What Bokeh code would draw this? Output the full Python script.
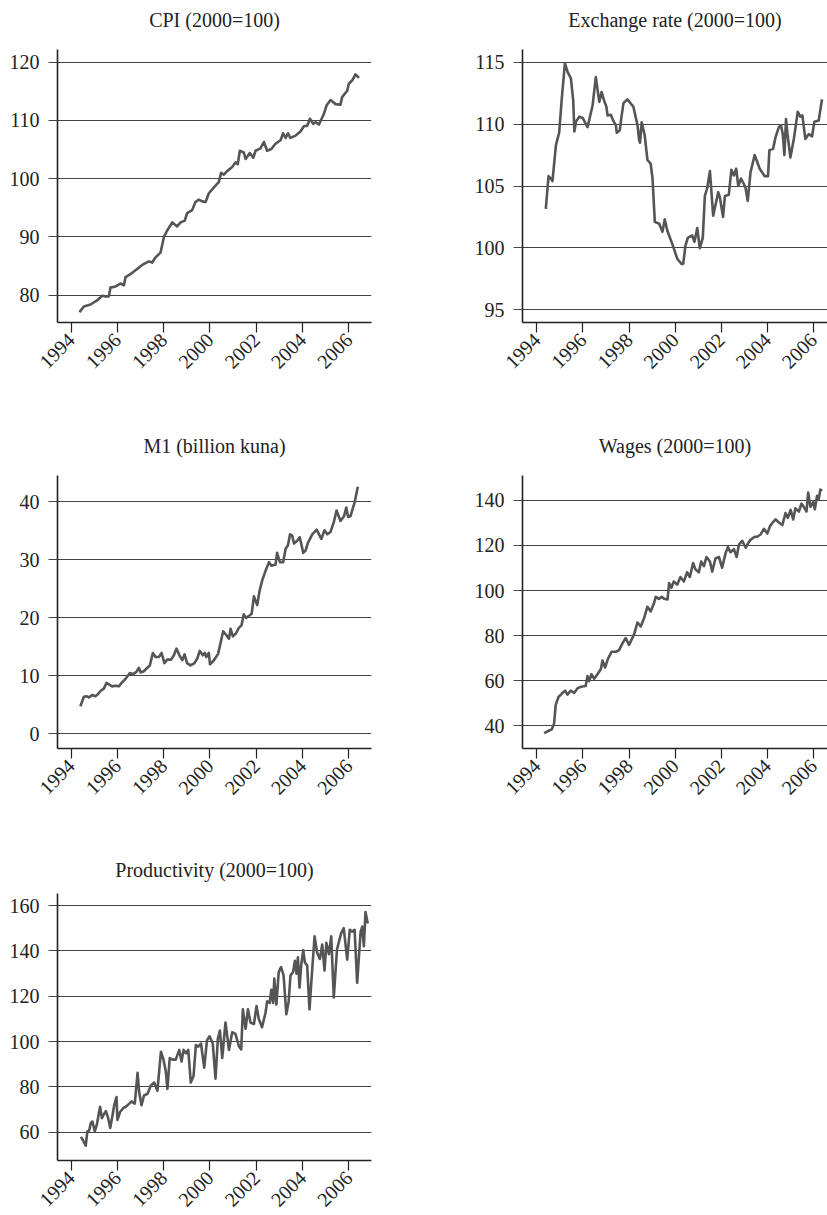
import math
from bokeh.plotting import figure
from bokeh.layouts import column, row
from bokeh.models import Range1d, LinearAxis, FixedTicker
from bokeh.embed import file_html
from bokeh.resources import INLINE

FONT = "Liberation Serif"
GRID = "#444444"
TEXT = "#222222"
LINE = "#555555"

YEAR_TICKS = [1994, 1996, 1998, 2000, 2002, 2004, 2006]

# ---------------- data ----------------
cpi_t = [1994.36, 1994.55, 1994.84, 1995.12, 1995.34, 1995.48, 1995.63, 1995.70, 1995.92, 1996.13,
         1996.28, 1996.35, 1996.56, 1996.85, 1997.07, 1997.36, 1997.50, 1997.65, 1997.86, 1998.01,
         1998.15, 1998.37, 1998.58, 1998.73, 1998.91, 1999.01, 1999.23, 1999.37, 1999.52, 1999.66,
         1999.81, 1999.95, 2000.17, 2000.38, 2000.48, 2000.60, 2000.74, 2000.96, 2001.10, 2001.20,
         2001.29, 2001.46, 2001.54, 2001.72, 2001.87, 2001.97, 2002.18, 2002.33, 2002.47, 2002.65,
         2002.83, 2003.05, 2003.16, 2003.27, 2003.37, 2003.48, 2003.70, 2003.91, 2004.06, 2004.20,
         2004.32, 2004.46, 2004.56, 2004.71, 2004.92, 2005.04, 2005.21, 2005.43, 2005.64, 2005.71,
         2005.93, 2006.00, 2006.15, 2006.29, 2006.44]
cpi_v = [77.1, 78.05, 78.4, 79.1, 79.9, 79.8, 79.8, 81.3, 81.5, 82.0,
         81.7, 83.1, 83.6, 84.5, 85.2, 85.8, 85.6, 86.5, 87.3, 90.0,
         91.1, 92.5, 91.8, 92.5, 92.8, 94.1, 94.6, 96.0, 96.4, 96.1,
         96.0, 97.5, 98.5, 99.4, 101.0, 100.7, 101.3, 102.0, 102.8, 102.5,
         104.8, 104.5, 103.4, 104.4, 103.6, 104.8, 105.2, 106.3, 104.8, 105.1,
         106.0, 106.6, 107.8, 107.0, 107.8, 107.0, 107.4, 108.1, 109.0, 109.1,
         110.3, 109.4, 109.7, 109.3, 111.1, 112.6, 113.5, 112.8, 112.7, 114.0,
         115.1, 116.3, 116.9, 117.9, 117.3]

ex_t = [1994.39, 1994.51, 1994.61, 1994.68, 1994.83, 1994.97, 1995.09, 1995.22, 1995.34, 1995.48,
        1995.58, 1995.63, 1995.70, 1995.84, 1995.99, 1996.20, 1996.42, 1996.56, 1996.71, 1996.81,
        1996.92, 1997.02, 1997.07, 1997.21, 1997.31, 1997.43, 1997.47, 1997.60, 1997.67, 1997.76,
        1997.93, 1998.19, 1998.37, 1998.44, 1998.48, 1998.55, 1998.68, 1998.80, 1998.94, 1999.02,
        1999.12, 1999.31, 1999.45, 1999.55, 1999.66, 1999.88, 2000.10, 2000.28, 2000.35, 2000.45,
        2000.55, 2000.74, 2000.84, 2000.96, 2001.07, 2001.20, 2001.29, 2001.39, 2001.51, 2001.65,
        2001.87, 2001.94, 2002.08, 2002.16, 2002.33, 2002.44, 2002.55, 2002.65, 2002.74, 2002.86,
        2003.05, 2003.15, 2003.27, 2003.45, 2003.67, 2003.88, 2004.03, 2004.09, 2004.25, 2004.35,
        2004.50, 2004.59, 2004.67, 2004.74, 2004.81, 2004.88, 2005.00, 2005.15, 2005.32, 2005.43,
        2005.52, 2005.65, 2005.80, 2005.94, 2006.04, 2006.23, 2006.37]
ex_v = [103.15, 105.8, 105.6, 105.4, 108.3, 109.3, 112.2, 114.9, 114.2, 113.7,
        111.9, 109.4, 110.2, 110.6, 110.5, 109.75, 111.5, 113.8, 111.8, 112.6,
        111.9, 111.4, 110.7, 110.75, 110.3, 109.9, 109.3, 109.5, 110.55, 111.7,
        112.0, 111.4, 109.9, 108.7, 108.5, 110.15, 109.1, 107.1, 106.8, 105.6,
        102.1, 101.95, 101.3, 102.3, 101.4, 100.3, 99.1, 98.7, 98.7, 100.2,
        100.8, 101.0, 100.5, 101.6, 99.98, 100.8, 104.2, 104.8, 106.2, 102.6,
        104.5, 104.1, 102.5, 104.2, 104.3, 106.3, 105.85, 106.4, 105.0, 105.6,
        104.9, 103.8, 106.1, 107.5, 106.4, 105.8, 105.8, 107.9, 108.0, 108.9,
        109.75, 109.9, 109.2, 107.5, 110.4, 109.1, 107.3, 108.8, 111.0, 110.6,
        110.7, 108.8, 109.2, 109.0, 110.2, 110.3, 112.0]

m1_t = [1994.40, 1994.55, 1994.66, 1994.76, 1994.91, 1995.05, 1995.12, 1995.27, 1995.41, 1995.53,
        1995.63, 1995.77, 1995.92, 1996.06, 1996.16, 1996.35, 1996.54, 1996.68, 1996.82, 1996.93,
        1997.00, 1997.14, 1997.29, 1997.40, 1997.53, 1997.65, 1997.79, 1997.91, 1998.03, 1998.15,
        1998.32, 1998.44, 1998.55, 1998.68, 1998.80, 1998.90, 1999.01, 1999.16, 1999.33, 1999.45,
        1999.56, 1999.69, 1999.78, 1999.84, 1999.95, 2000.00, 2000.17, 2000.35, 2000.57, 2000.71,
        2000.82, 2000.89, 2000.99, 2001.12, 2001.25, 2001.36, 2001.46, 2001.56, 2001.71, 2001.80,
        2001.90, 2002.04, 2002.14, 2002.26, 2002.40, 2002.55, 2002.65, 2002.83, 2002.90, 2003.02,
        2003.16, 2003.27, 2003.37, 2003.46, 2003.55, 2003.63, 2003.77, 2003.88, 2004.03, 2004.13,
        2004.23, 2004.42, 2004.61, 2004.81, 2004.95, 2005.07, 2005.21, 2005.35, 2005.47, 2005.64,
        2005.79, 2005.89, 2005.97, 2006.07, 2006.25, 2006.39]
m1_v = [4.76, 6.4, 6.5, 6.3, 6.7, 6.5, 6.7, 7.4, 7.8, 8.8,
        8.55, 8.2, 8.3, 8.2, 8.7, 9.5, 10.5, 10.3, 10.7, 11.4,
        10.6, 10.8, 11.4, 11.8, 13.95, 13.25, 13.25, 13.95, 12.2, 12.8,
        12.8, 13.55, 14.7, 13.55, 12.7, 13.7, 12.2, 11.8, 12.2, 13.0,
        14.3, 13.55, 13.95, 13.25, 13.95, 12.0, 12.7, 13.8, 17.7, 17.0,
        16.4, 18.1, 16.8, 17.3, 18.3, 18.7, 20.6, 20.0, 20.4, 20.7,
        23.7, 22.2, 24.6, 26.5, 28.1, 29.6, 29.0, 29.15, 31.2, 29.6,
        29.6, 31.9, 32.5, 34.4, 34.2, 32.8, 33.3, 33.9, 31.2, 31.6,
        32.9, 34.4, 35.2, 33.6, 35.1, 34.4, 34.8, 36.5, 38.5, 36.7,
        37.5, 39.0, 37.4, 37.5, 39.9, 42.6]

wg_t = [1994.32, 1994.54, 1994.65, 1994.75, 1994.82, 1994.94, 1995.08, 1995.23, 1995.33, 1995.47,
        1995.62, 1995.76, 1995.91, 1996.12, 1996.20, 1996.27, 1996.37, 1996.49, 1996.63, 1996.78,
        1996.85, 1996.96, 1997.09, 1997.25, 1997.43, 1997.57, 1997.72, 1997.86, 1998.00, 1998.22,
        1998.37, 1998.51, 1998.66, 1998.80, 1998.94, 1999.09, 1999.16, 1999.30, 1999.42, 1999.52,
        1999.67, 1999.74, 1999.84, 1999.94, 2000.09, 2000.23, 2000.38, 2000.52, 2000.64, 2000.78,
        2000.88, 2001.03, 2001.13, 2001.25, 2001.36, 2001.51, 2001.61, 2001.75, 2001.90, 2002.04,
        2002.19, 2002.29, 2002.40, 2002.55, 2002.67, 2002.77, 2002.91, 2003.06, 2003.17, 2003.27,
        2003.45, 2003.56, 2003.71, 2003.85, 2004.00, 2004.11, 2004.21, 2004.36, 2004.50, 2004.65,
        2004.79, 2004.89, 2005.01, 2005.12, 2005.22, 2005.37, 2005.48, 2005.58, 2005.70, 2005.77,
        2005.87, 2005.99, 2006.06, 2006.16, 2006.23, 2006.30, 2006.37]
wg_v = [36.6, 37.8, 38.3, 40.8, 49.2, 52.7, 54.1, 55.5, 53.7, 55.5,
        54.5, 56.5, 57.2, 57.6, 62.0, 59.7, 62.8, 60.8, 62.8, 65.1,
        68.9, 65.8, 69.7, 72.8, 72.8, 73.5, 76.6, 78.9, 75.8, 80.5,
        85.8, 84.0, 87.9, 92.8, 90.7, 94.6, 97.2, 96.3, 97.2, 96.3,
        96.0, 103.3, 101.2, 104.0, 102.6, 106.0, 104.0, 108.1, 106.0, 112.2,
        109.4, 108.1, 112.9, 110.8, 114.9, 112.9, 108.4, 114.2, 114.9, 110.1,
        116.6, 119.3, 117.0, 118.4, 114.9, 120.4, 122.1, 119.0, 121.1, 122.5,
        123.9, 123.9, 124.9, 127.4, 125.3, 128.5, 129.9, 131.6, 130.2, 129.1,
        134.4, 132.3, 135.8, 131.6, 136.5, 135.1, 138.6, 137.2, 135.1, 143.5,
        137.2, 139.3, 136.1, 142.1, 140.7, 144.9, 144.2]

pr_t = [1994.42, 1994.53, 1994.63, 1994.70, 1994.78, 1994.85, 1994.92, 1995.02, 1995.11, 1995.25,
        1995.33, 1995.40, 1995.50, 1995.60, 1995.69, 1995.79, 1995.86, 1995.96, 1996.00, 1996.12,
        1996.26, 1996.36, 1996.51, 1996.61, 1996.75, 1996.87, 1996.94, 1997.04, 1997.15, 1997.30,
        1997.44, 1997.59, 1997.73, 1997.88, 1997.99, 1998.09, 1998.16, 1998.26, 1998.38, 1998.52,
        1998.67, 1998.77, 1998.86, 1998.96, 1999.06, 1999.17, 1999.29, 1999.39, 1999.49, 1999.61,
        1999.75, 1999.87, 1999.98, 2000.12, 2000.24, 2000.34, 2000.43, 2000.53, 2000.67, 2000.82,
        2000.96, 2001.10, 2001.25, 2001.35, 2001.42, 2001.54, 2001.64, 2001.75, 2001.90, 2002.01,
        2002.11, 2002.25, 2002.40, 2002.47, 2002.58, 2002.65, 2002.73, 2002.78, 2002.87, 2002.97,
        2003.07, 2003.18, 2003.30, 2003.40, 2003.48, 2003.59, 2003.67, 2003.74, 2003.80, 2003.87,
        2003.94, 2004.03, 2004.10, 2004.20, 2004.30, 2004.42, 2004.52, 2004.63, 2004.75, 2004.85,
        2004.95, 2005.03, 2005.14, 2005.24, 2005.35, 2005.49, 2005.67, 2005.78, 2005.93, 2006.04,
        2006.15, 2006.25, 2006.36, 2006.51, 2006.58, 2006.65, 2006.72, 2006.82]
pr_v = [57.9, 56.1, 54.0, 60.4, 60.7, 64.0, 64.7, 60.4, 63.3, 71.2,
        66.2, 67.6, 69.3, 66.2, 61.9, 67.6, 71.9, 75.5, 65.4, 69.0,
        70.7, 71.2, 72.6, 73.6, 72.6, 86.2, 77.6, 71.9, 76.2, 76.9,
        80.5, 81.9, 78.3, 95.5, 92.0, 86.9, 79.1, 92.7, 92.0, 92.0,
        96.3, 91.2, 96.3, 94.8, 96.3, 81.9, 84.8, 98.4, 97.7, 99.1,
        88.4, 100.5, 102.3, 99.1, 83.6, 101.3, 104.8, 92.7, 108.4, 96.3,
        104.1, 103.4, 97.9, 96.5, 114.2, 105.6, 114.2, 108.4, 107.7, 115.6,
        109.9, 106.3, 112.7, 117.7, 117.0, 122.8, 117.0, 127.8, 116.3, 130.6,
        132.8, 129.2, 112.0, 117.7, 129.2, 130.6, 135.6, 129.9, 137.1, 123.8,
        133.5, 140.3, 134.9, 133.5, 114.2, 132.1, 146.4, 139.2, 136.4, 142.8,
        131.3, 143.5, 138.5, 146.4, 119.4, 140.7, 147.8, 150.0, 136.1, 149.3,
        148.5, 149.3, 125.9, 148.5, 150.7, 142.1, 157.1, 152.1]

cpi_ticks = [80, 90, 100, 110, 120]
ex_ticks = [95, 100, 105, 110, 115]
m1_ticks = [0, 10, 20, 30, 40]
wg_ticks = [40, 60, 80, 100, 120, 140]
pr_ticks = [60, 80, 100, 120, 140, 160]


def make_panel(title, xs, ys, x_rng, y_rng, y_ticks, width, height,
               b_left, b_right, b_top, b_bottom, title_gap):
    p = figure(width=width, height=height,
               x_range=Range1d(*x_rng), y_range=Range1d(*y_rng),
               output_backend="svg", toolbar_location=None,
               min_border_left=b_left, min_border_right=b_right,
               min_border_top=b_top, min_border_bottom=b_bottom,
               title=title)
    p.title.align = "center"
    p.title.text_font = FONT
    p.title.text_font_size = "20px"
    p.title.text_font_style = "normal"
    p.title.text_color = TEXT
    p.title.standoff = 0
    # invisible top axis used only as a spacer between frame and title
    spacer = LinearAxis(ticker=FixedTicker(ticks=[]), major_tick_out=title_gap,
                        major_tick_in=0, axis_line_color=None,
                        major_tick_line_color=None, minor_tick_line_color=None,
                        major_label_text_alpha=0)
    p.add_layout(spacer, "above")
    p.outline_line_color = None
    p.background_fill_color = "white"
    p.border_fill_color = "white"
    p.xgrid.visible = False
    p.ygrid.grid_line_color = GRID
    p.ygrid.grid_line_width = 1
    p.xaxis[0].ticker = YEAR_TICKS
    p.yaxis.ticker = y_ticks
    for ax in (p.below[0], p.yaxis[0]):
        ax.axis_line_color = TEXT
        ax.axis_line_width = 1.6
        ax.major_label_text_font = FONT
        ax.major_label_text_font_size = "20px"
        ax.major_label_text_color = TEXT
        ax.minor_tick_line_color = None
        ax.major_tick_in = 0
    xa = p.below[0]
    xa.major_tick_out = 10
    xa.major_tick_line_color = TEXT
    xa.major_tick_line_width = 1.2
    xa.major_label_orientation = math.pi / 4
    xa.major_label_standoff = 4
    p.yaxis.major_tick_out = 9
    p.yaxis.major_tick_line_color = GRID
    p.yaxis.major_label_standoff = 9
    p.line(xs, ys, line_color=LINE, line_width=2.6, line_join="round")
    return p


XL = (1993.41, 2006.98)   # left column x range
XR = (1993.38, 2006.61)   # right column x range

p1 = make_panel("CPI (2000=100)", cpi_t, cpi_v, XL, (75.31, 122.18), cpi_ticks,
                428, 426, 57, 57, 49, 104, 19)
p2 = make_panel("Exchange rate (2000=100)", ex_t, ex_v, XR, (93.97, 116.03), ex_ticks,
                399, 426, 94, 0, 49, 104, 19)
p3 = make_panel("M1 (billion kuna)", m1_t, m1_v, XL, (-2.51, 44.53), m1_ticks,
                428, 418, 57, 57, 49, 96, 19)
p4 = make_panel("Wages (2000=100)", wg_t, wg_v, XR, (29.8, 151.1), wg_ticks,
                399, 418, 94, 0, 49, 96, 19)
p5 = make_panel("Productivity (2000=100)", pr_t, pr_v, XL, (47.5, 165.3), pr_ticks,
                428, 371, 57, 57, 49, 48, 13)

layout = column(row(p1, p2), row(p3, p4), p5)

open("out.html", "w").write(file_html(layout, INLINE))
